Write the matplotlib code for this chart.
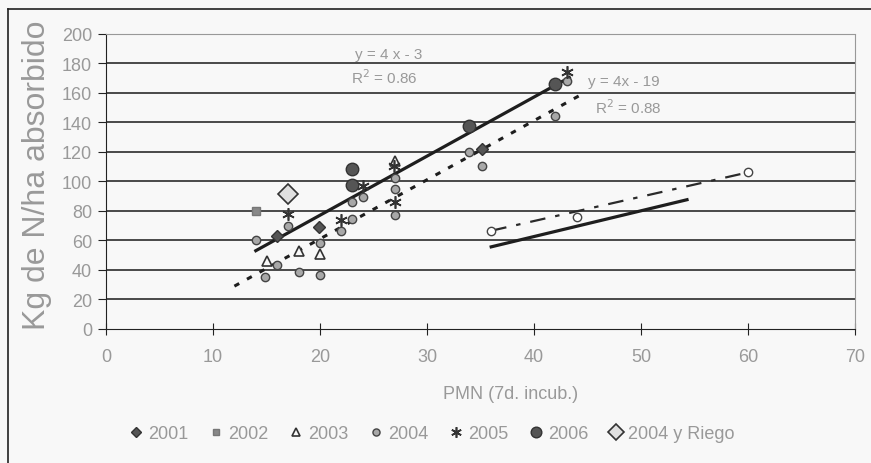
# N absorbido vs PMN (7d incub.), scatter por año con rectas de ajuste
import matplotlib.pyplot as plt
from matplotlib.lines import Line2D

plt.rcParams['font.family'] = ['Liberation Sans', 'DejaVu Sans']
txt_col = '#999999'

# datos
x_2001 = [16, 19.9, 35.1]
y_2001 = [63, 69, 122]
x_2002 = [14]
y_2002 = [80]
x_2003 = [15, 18, 20, 27]
y_2003 = [46, 53, 51, 114]
x_2004 = [14, 17, 20, 16, 14.9, 18, 20, 22, 23, 23, 24, 27, 27, 27, 33.9, 35.1, 43.1, 42]
y_2004 = [60, 70, 58, 43.5, 35, 38.6, 36.6, 66, 74.6, 86, 89.5, 102, 95, 77, 120, 110, 168, 144.5]
x_2004b = [36, 44, 60]
y_2004b = [66.5, 76, 106]
x_2005 = [17, 22, 24, 26.9, 27, 43.1]
y_2005 = [78, 74, 97, 110, 86, 174]
x_2006 = [23, 23, 33.9, 42]
y_2006 = [108, 97.5, 137.6, 166]
x_riego = [17]
y_riego = [91.5]

# rectas de ajuste (extremos)
fit1_x = [14, 43.3]
fit1_y = [4 * v - 3 for v in fit1_x]
fit2_x = [12, 44.3]
fit2_y = [4 * v - 19 for v in fit2_x]
fit3_x = [36, 54.3]
fit3_y = [55.6, 87.5]
fit4_x = [36, 60]
fit4_y = [66.5, 106]

fig = plt.figure(figsize=(8.71, 4.64), dpi=100)
fig.patch.set_facecolor('#f8f8f8')
ax = fig.add_axes([106 / 871, 1 - 330 / 464, 749 / 871, 295.5 / 464])
ax.set_facecolor('#f8f8f8')

# marco exterior
fig.add_artist(Line2D([8 / 871, 8 / 871], [0, 1 - 10 / 464], transform=fig.transFigure, color='#222', lw=1.2))
fig.add_artist(Line2D([8 / 871, 1], [1 - 10 / 464, 1 - 10 / 464], transform=fig.transFigure, color='#222', lw=1.2))

ax.set_xlim(0, 70)
ax.set_ylim(0, 200)
ax.set_xticks(range(0, 71, 10))
ax.set_yticks(range(0, 201, 20))
for yv in range(20, 200, 20):
    ax.axhline(yv, color='#1a1a1a', lw=1.1, zorder=1)
ax.spines['top'].set_color('#999')
ax.spines['top'].set_linestyle((0, (1, 1)))
ax.spines['right'].set_color('#999')
ax.spines['right'].set_linestyle((0, (1, 1)))
ax.spines['left'].set_color('#222')
ax.spines['bottom'].set_color('#222')
ax.tick_params(axis='y', direction='out', length=6, colors='#222', labelcolor=txt_col, labelsize=13, pad=4)
ax.tick_params(axis='x', direction='inout', length=8, colors='#222', labelcolor=txt_col, labelsize=13, pad=10)

ax.set_ylabel('Kg de N/ha absorbido', fontsize=23, color=txt_col)
ax.yaxis.set_label_coords(-0.072, 0.525)
ax.set_xlabel('PMN (7d. incub.)', fontsize=13, color=txt_col)
ax.xaxis.set_label_coords(0.54, -0.19)

# rectas
ax.plot(fit1_x, fit1_y, color='#1e1e1e', lw=2.3, zorder=2)
ax.plot(fit2_x, fit2_y, color='#1e1e1e', lw=2.2, linestyle=(0, (1.8, 2.9)), zorder=2)
ax.plot(fit3_x, fit3_y, color='#1e1e1e', lw=2.3, zorder=2)
ax.plot(fit4_x, fit4_y, color='#2a2a2a', lw=1.6, linestyle=(0, (7, 4.5, 2, 4.5)), zorder=2)

# puntos
ax.plot(x_2001, y_2001, 'D', ms=6, mfc='#555', mec='#333', ls='none', label='2001', zorder=3)
ax.plot(x_2002, y_2002, 's', ms=5.5, mfc='#888', mec='#777', ls='none', label='2002', zorder=3)
ax.plot(x_2003, y_2003, '^', ms=7, mfc='#f8f8f8', mec='#333', mew=1.2, ls='none', label='2003', zorder=3)
ax.plot(x_2004, y_2004, 'o', ms=6, mfc='#a8a8a8', mec='#444', ls='none', label='2004', zorder=3)
ax.plot(x_2004b, y_2004b, 'o', ms=6, mfc='#ffffff', mec='#444', ls='none', zorder=3)
ax.plot(x_2005, y_2005, marker=(6, 2, 0), ms=9, mec='#333', mew=1.2, ls='none', label='2005', zorder=3)
ax.plot(x_2006, y_2006, 'o', ms=9, mfc='#555', mec='#333', ls='none', label='2006', zorder=3)
ax.plot(x_riego, y_riego, 'D', ms=10, mfc='#e0e0e0', mec='#333', mew=1.2, ls='none', label='2004 y Riego', zorder=3)

# ecuaciones
ax.text(26.4, 186, 'y = 4 x - 3', fontsize=11, color=txt_col, ha='center', va='center')
ax.text(26.0, 171, 'R$^2$ = 0.86', fontsize=11, color=txt_col, ha='center', va='center')
ax.text(48.4, 168, 'y = 4x - 19', fontsize=11, color=txt_col, ha='center', va='center')
ax.text(48.8, 150.5, 'R$^2$ = 0.88', fontsize=11, color=txt_col, ha='center', va='center')

handles, labels = ax.get_legend_handles_labels()
leg = fig.legend(handles, labels, loc='center', bbox_to_anchor=(430 / 871, 1 - 435 / 464), ncol=7,
                 frameon=False, fontsize=13, handletextpad=0.1, columnspacing=0.9, handlelength=1.2,
                 markerscale=0.85)
for t in leg.get_texts():
    t.set_color(txt_col)

fig.savefig('out.png', dpi=100, facecolor=fig.get_facecolor())
